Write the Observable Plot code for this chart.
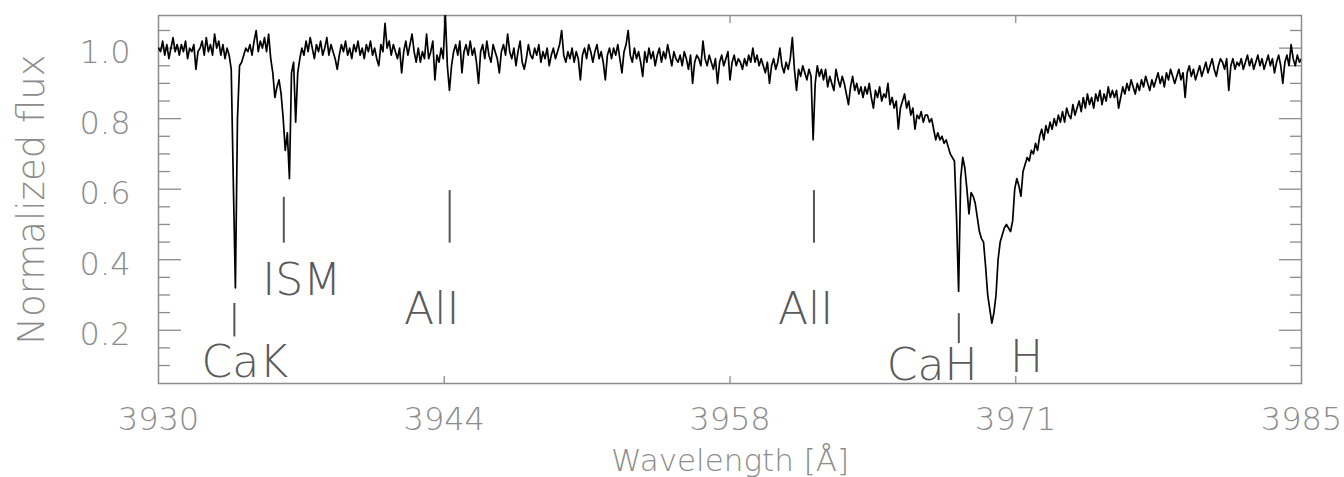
<!DOCTYPE html>
<html>
<head>
<meta charset="utf-8">
<script src="https://cdn.jsdelivr.net/npm/d3@7"></script>
<script src="https://cdn.jsdelivr.net/npm/@observablehq/plot@0.6"></script>
<style>
  body { margin: 0; background: #fff; }
</style>
</head>
<body>
<div id="chart"></div>
<script>
// Normalized flux, sampled every 0.1 Å from 3930.0 to 3985.0 Å (one row per Å)
const flux = [
  1.00, 0.99, 1.02, 0.98, 1.01, 0.97, 1.00, 1.03, 0.99, 1.01, // 3930
  0.98, 1.01, 0.99, 1.02, 0.97, 1.00, 0.99, 1.01, 0.94, 0.99, // 3931
  1.00, 1.02, 0.98, 1.03, 0.99, 1.01, 0.98, 1.04, 1.00, 1.02, // 3932
  0.98, 1.01, 0.97, 1.00, 0.98, 0.94, 0.62, 0.32, 0.80, 0.95, // 3933
  0.96, 0.98, 1.00, 0.99, 1.01, 0.98, 1.02, 1.05, 0.99, 1.02, // 3934
  1.00, 1.03, 0.99, 1.04, 0.97, 0.93, 0.86, 0.89, 0.91, 0.87, // 3935
  0.80, 0.71, 0.76, 0.63, 0.93, 0.96, 0.79, 0.93, 0.97, 1.00, // 3936
  0.98, 1.02, 0.99, 1.03, 1.00, 0.97, 1.01, 0.99, 1.02, 0.98, // 3937
  1.00, 1.03, 0.98, 1.01, 0.99, 0.97, 0.94, 0.98, 1.01, 0.99, // 3938
  1.02, 0.98, 1.00, 0.97, 1.01, 0.99, 1.02, 0.98, 1.00, 0.97, // 3939
  1.01, 0.99, 1.02, 0.98, 1.00, 0.97, 0.95, 1.01, 0.99, 1.07, // 3940
  1.00, 1.02, 0.98, 1.01, 0.99, 0.97, 1.00, 0.93, 0.99, 1.02, // 3941
  0.98, 1.01, 1.04, 0.99, 0.96, 1.00, 0.96, 0.99, 0.97, 1.04, // 3942
  0.97, 0.99, 1.02, 0.91, 0.98, 0.96, 1.00, 0.97, 1.10, 0.95, // 3943
  0.88, 0.95, 0.99, 1.01, 0.98, 1.02, 0.93, 0.99, 1.01, 0.98, // 3944
  1.02, 0.98, 1.00, 0.96, 0.90, 0.99, 1.01, 0.97, 1.02, 0.98, // 3945
  0.96, 1.01, 0.99, 0.97, 0.93, 0.99, 1.01, 0.98, 1.04, 0.99, // 3946
  0.97, 1.00, 0.95, 0.99, 1.02, 0.96, 0.94, 0.97, 1.01, 0.98, // 3947
  0.97, 1.00, 0.98, 1.01, 0.96, 0.99, 0.97, 1.00, 0.95, 0.98, // 3948
  1.00, 0.97, 0.99, 1.01, 1.05, 0.98, 0.96, 0.99, 0.97, 1.00, // 3949
  0.96, 0.99, 0.97, 0.91, 0.98, 1.00, 0.97, 1.01, 0.99, 0.96, // 3950
  0.99, 1.01, 0.97, 0.99, 0.96, 0.91, 0.98, 1.00, 0.97, 1.00, // 3951
  0.98, 1.01, 0.97, 0.93, 0.99, 1.01, 1.05, 0.98, 0.96, 1.00, // 3952
  0.97, 0.99, 0.96, 0.92, 0.99, 0.96, 1.00, 0.97, 0.99, 0.95, // 3953
  0.98, 1.00, 0.96, 0.99, 0.97, 1.01, 0.98, 0.95, 0.99, 0.97, // 3954
  0.96, 0.98, 0.95, 0.99, 0.97, 0.94, 0.98, 0.90, 0.96, 0.98, // 3955
  0.97, 0.95, 1.02, 0.97, 0.95, 0.98, 0.96, 0.94, 0.97, 0.90, // 3956
  0.96, 0.98, 0.95, 0.97, 0.99, 0.91, 0.96, 0.98, 0.95, 0.97, // 3957
  0.96, 0.94, 0.97, 0.95, 0.98, 0.96, 1.00, 0.96, 0.98, 0.95, // 3958
  0.97, 0.95, 0.93, 0.96, 0.90, 0.95, 0.97, 0.94, 0.96, 1.00, // 3959
  0.95, 0.93, 0.96, 0.94, 0.97, 1.03, 0.94, 0.88, 0.94, 0.92, // 3960
  0.95, 0.93, 0.91, 0.94, 0.92, 0.74, 0.90, 0.95, 0.92, 0.94, // 3961
  0.91, 0.94, 0.89, 0.92, 0.90, 0.88, 0.94, 0.91, 0.89, 0.92, // 3962
  0.90, 0.87, 0.84, 0.89, 0.92, 0.88, 0.90, 0.87, 0.89, 0.86, // 3963
  0.89, 0.87, 0.90, 0.86, 0.83, 0.88, 0.86, 0.89, 0.85, 0.87, // 3964
  0.86, 0.90, 0.84, 0.86, 0.83, 0.85, 0.77, 0.83, 0.85, 0.87, // 3965
  0.83, 0.85, 0.81, 0.83, 0.77, 0.81, 0.80, 0.82, 0.79, 0.81, // 3966
  0.81, 0.79, 0.80, 0.77, 0.74, 0.76, 0.74, 0.75, 0.73, 0.74, // 3967
  0.72, 0.70, 0.69, 0.68, 0.52, 0.31, 0.63, 0.69, 0.66, 0.60, // 3968
  0.53, 0.59, 0.58, 0.56, 0.52, 0.48, 0.46, 0.45, 0.38, 0.30, // 3969
  0.26, 0.22, 0.25, 0.30, 0.40, 0.45, 0.47, 0.49, 0.50, 0.49, // 3970
  0.48, 0.51, 0.60, 0.63, 0.61, 0.58, 0.65, 0.67, 0.69, 0.68, // 3971
  0.71, 0.70, 0.73, 0.71, 0.75, 0.77, 0.74, 0.78, 0.76, 0.79, // 3972
  0.77, 0.80, 0.78, 0.81, 0.79, 0.82, 0.79, 0.83, 0.81, 0.80, // 3973
  0.84, 0.81, 0.83, 0.85, 0.82, 0.86, 0.83, 0.87, 0.84, 0.86, // 3974
  0.83, 0.87, 0.85, 0.88, 0.84, 0.87, 0.85, 0.89, 0.86, 0.88, // 3975
  0.86, 0.88, 0.83, 0.86, 0.89, 0.87, 0.90, 0.88, 0.91, 0.89, // 3976
  0.87, 0.90, 0.88, 0.91, 0.89, 0.92, 0.90, 0.88, 0.91, 0.89, // 3977
  0.91, 0.93, 0.90, 0.92, 0.89, 0.93, 0.91, 0.94, 0.92, 0.90, // 3978
  0.92, 0.94, 0.91, 0.93, 0.86, 0.93, 0.95, 0.92, 0.94, 0.91, // 3979
  0.93, 0.95, 0.92, 0.94, 0.96, 0.93, 0.95, 0.97, 0.94, 0.92, // 3980
  0.95, 0.97, 0.96, 0.94, 0.97, 0.88, 0.95, 0.97, 0.94, 0.96, // 3981
  0.95, 0.97, 0.94, 0.96, 0.98, 0.95, 0.97, 0.94, 0.96, 0.98, // 3982
  0.95, 0.97, 0.94, 0.96, 0.98, 0.95, 0.97, 0.93, 0.96, 0.98, // 3983
  0.95, 0.90, 0.96, 0.98, 0.95, 1.01, 0.97, 0.95, 0.98, 0.96, // 3984
  0.97                                                        // 3985
];
const lambdaStart = 3930;
const lambdaStep = 0.1;

// Line identification markers
const markerWavelength = [3933.65, 3936.03, 3944.01, 3961.54, 3968.51];
const markerTop        = [0.276, 0.577, 0.596, 0.596, 0.247];
const markerBottom     = [0.181, 0.447, 0.447, 0.447, 0.162];

// Line labels
const labelText       = ["CaK", "ISM", "AlI", "AlI", "CaH", "H"];
const labelWavelength = [3934.15, 3936.89, 3943.15, 3961.14, 3967.23, 3971.77];
const labelFlux       = [0.068, 0.299, 0.219, 0.219, 0.0585, 0.082];

// Axes
const xTickValues = [3930, 3943.75, 3957.5, 3971.25, 3985];
const xTickLabels = ["3930", "3944", "3958", "3971", "3985"];
const yMajor = [0.2, 0.4, 0.6, 0.8, 1.0];
const yMinor = [0.1, 0.15, 0.25, 0.3, 0.35, 0.45, 0.5, 0.55, 0.65, 0.7, 0.75, 0.85, 0.9, 0.95, 1.05];

const spectrum = flux.map((f, i) => ({wavelength: lambdaStart + i * lambdaStep, flux: f}));
const markers = markerWavelength.map((w, i) => ({wavelength: w, top: markerTop[i], bottom: markerBottom[i]}));
const labels = labelText.map((t, i) => ({text: t, wavelength: labelWavelength[i], flux: labelFlux[i]}));

const axisGray = "#8c8c8c";
const noText = () => "";

const chart = Plot.plot({
  width: 1344,
  height: 477,
  marginLeft: 158,
  marginRight: 43,
  marginTop: 15,
  marginBottom: 94,
  style: {fontFamily: "'DejaVu Sans', sans-serif", fontWeight: 200, background: "#fff"},
  x: {domain: [3930, 3985]},
  y: {domain: [0.049, 1.0925]},
  marks: [
    Plot.frame({stroke: axisGray, strokeWidth: 1.5}),
    // inward ticks
    Plot.axisY(yMajor, {anchor: "left", tickSize: 23, dx: 23, tickFormat: noText, stroke: axisGray, strokeWidth: 1.3, label: null}),
    Plot.axisY(yMinor, {anchor: "left", tickSize: 12, dx: 12, tickFormat: noText, stroke: axisGray, strokeWidth: 1.3, label: null}),
    Plot.axisY(yMajor, {anchor: "right", tickSize: 23, dx: -23, tickFormat: noText, stroke: axisGray, strokeWidth: 1.3, label: null}),
    Plot.axisY(yMinor, {anchor: "right", tickSize: 12, dx: -12, tickFormat: noText, stroke: axisGray, strokeWidth: 1.3, label: null}),
    Plot.axisX(xTickValues.slice(1, -1), {anchor: "bottom", tickSize: 7, dy: -7, tickFormat: noText, stroke: axisGray, strokeWidth: 1.3, label: null}),
    Plot.axisX(xTickValues.slice(1, -1), {anchor: "top", tickSize: 7, dy: 7, tickFormat: noText, stroke: axisGray, strokeWidth: 1.3, label: null}),
    // tick labels
    Plot.axisY(yMajor, {anchor: "left", tickSize: 0, tickPadding: 28, dy: 5, fontSize: 32, fill: axisGray, tickFormat: d => d.toFixed(1), label: null}),
    Plot.axisX(xTickValues, {anchor: "bottom", tickSize: 0, tickPadding: 24, fontSize: 32, fill: axisGray, tickFormat: d => xTickLabels[xTickValues.indexOf(d)], label: null}),
    // axis titles
    Plot.text(["Wavelength [Å]"], {frameAnchor: "bottom", text: d => d, dy: 78, textAnchor: "middle", lineAnchor: "middle", fontSize: 31, fill: axisGray}),
    Plot.text(["Normalized flux"], {frameAnchor: "left", text: d => d, rotate: -90, dx: -126, textAnchor: "middle", lineAnchor: "middle", fontSize: 37, fill: axisGray}),
    // spectrum
    Plot.line(spectrum, {x: "wavelength", y: "flux", stroke: "#000", strokeWidth: 1.7, strokeLinejoin: "round", clip: true}),
    // markers and labels
    Plot.ruleX(markers, {x: "wavelength", y1: "bottom", y2: "top", stroke: "#555", strokeWidth: 2}),
    Plot.text(labels, {x: "wavelength", y: "flux", text: "text", textAnchor: "middle", lineAnchor: "bottom", fontSize: 44, fill: "#5a5a5a"})
  ]
});
document.getElementById("chart").appendChild(chart);
</script>
</body>
</html>
